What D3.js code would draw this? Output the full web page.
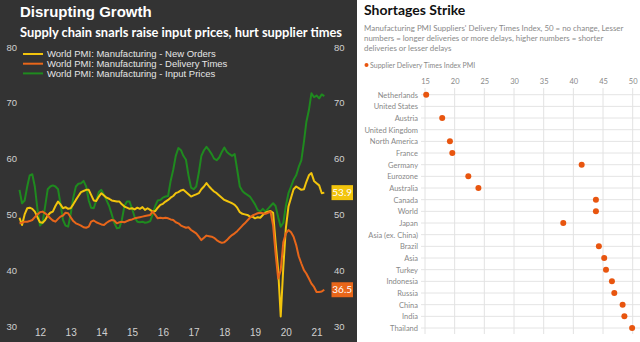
<!DOCTYPE html>
<html><head><meta charset="utf-8">
<script src="https://cdn.jsdelivr.net/npm/d3@7"></script>
<style>html,body{margin:0;padding:0;background:#fff;}svg{display:block;}</style>
</head><body>
<svg id="c" width="640" height="342"></svg>
<script>
// ---------- Left chart data (monthly, Nov 2011 - Oct 2021) ----------
const startMonth = new Date(2011, 10, 1);
const newOrders = [49.4,48.1,50.0,51.1,51.2,51.0,50.5,49.5,48.6,48.5,49.0,49.8,50.3,50.5,51.5,52.3,51.8,51.1,51.3,51.0,51.1,51.8,52.6,53.3,54.0,54.2,54.4,54.4,53.5,52.5,52.4,53.2,53.8,53.4,53.0,52.8,52.5,52.4,52.3,52.3,51.8,51.4,51.2,51.0,51.1,50.9,51.2,51.0,51.3,50.8,51.1,50.8,50.5,50.6,51.2,51.7,51.9,52.3,52.6,53.0,53.3,53.8,54.0,54.3,54.4,54.0,53.6,53.2,53.4,53.6,53.8,54.5,55.0,55.6,55.0,54.5,54.1,53.8,53.4,53.0,52.6,52.4,52.2,52.0,51.7,51.2,50.4,50.1,50.0,49.9,49.6,49.6,49.3,49.5,49.4,49.9,50.3,50.5,50.6,50.3,45.0,40.0,31.7,40.5,47.5,51.4,53.0,54.5,55.0,54.7,54.4,54.5,55.8,57.0,57.4,56.0,55.6,55.2,53.8,53.9];
const deliveryTimes = [48.4,48.5,48.7,48.7,48.8,49.0,49.5,50.0,50.4,50.5,50.2,49.8,49.3,48.9,48.7,49.2,49.6,49.8,50.3,50.2,49.5,48.8,48.4,48.2,48.0,47.7,47.6,47.8,48.7,48.9,48.6,48.4,48.2,48.1,48.5,48.8,49.0,48.9,48.4,48.6,48.7,48.6,48.8,49.0,49.1,49.3,49.4,49.5,49.6,49.7,49.8,49.9,50.5,49.9,49.3,49.4,49.3,49.4,49.3,49.1,49.0,48.6,48.4,48.0,47.8,47.6,47.7,47.2,46.9,46.6,46.0,45.4,45.8,46.2,46.1,46.0,45.8,45.4,45.1,44.9,45.0,45.4,45.9,46.3,46.6,47.0,47.5,48.0,48.4,48.9,49.4,49.8,50.0,50.2,50.3,50.2,50.1,50.3,50.5,48.0,43.0,38.5,40.0,45.0,46.6,47.2,46.8,46.0,44.5,42.5,41.2,40.0,39.4,38.5,37.6,37.0,36.1,36.1,36.2,36.5];
const inputPrices = [54.4,52.0,52.5,55.0,57.0,57.2,55.0,51.0,48.0,48.5,51.5,54.5,55.0,55.2,55.0,54.5,52.0,49.0,48.0,47.8,50.0,53.0,55.0,55.5,55.6,56.0,55.0,52.5,51.2,51.1,52.5,54.0,54.4,53.5,52.5,51.5,50.0,48.5,47.5,47.6,49.0,51.5,52.3,52.3,51.0,49.5,48.7,48.6,48.7,48.5,48.6,48.8,50.0,51.5,52.5,52.6,53.0,53.2,53.3,56.0,58.0,60.5,61.9,61.5,60.5,59.8,57.0,54.8,54.5,55.0,57.5,60.5,61.5,62.1,61.5,60.8,60.0,59.7,60.2,61.2,62.0,61.2,60.8,60.5,60.8,58.0,55.0,54.2,53.8,53.5,53.2,52.5,51.8,50.8,50.5,51.0,50.5,51.0,51.5,52.0,51.5,49.5,47.8,48.5,51.5,53.8,55.0,56.2,57.0,58.5,59.7,63.0,66.5,68.7,71.7,71.0,71.3,70.8,71.5,71.2];
const seriesNames = ["World PMI: Manufacturing - New Orders","World PMI: Manufacturing - Delivery Times","World PMI: Manufacturing - Input Prices"];
const seriesColors = ["#f2c40c","#e8661a","#1f8a1f"];
const yTicks = [30,40,50,60,70,80];
const xTickYears = [2012,2013,2014,2015,2016,2017,2018,2019,2020,2021];
const xTickLabels = ["12","13","14","15","16","17","18","19","20","21"];

// ---------- Right chart data ----------
const countries = ["Netherlands","United States","Austria","United Kingdom","North America","France","Germany","Eurozone","Australia","Canada","World","Japan","Asia (ex. China)","Brazil","Asia","Turkey","Indonesia","Russia","China","India","Thailand"];
const deliveryIndex = [15.2,null,17.9,null,19.2,19.6,41.4,22.3,24.0,43.8,43.8,38.3,null,44.3,45.2,45.5,46.5,46.9,48.3,48.6,49.9];
const dotTicks = [15,20,25,30,35,40,45,50];

const svg = d3.select("#c");

// ================= LEFT PANEL =================
svg.append("rect").attr("x",0).attr("y",0).attr("width",357).attr("height",342).attr("fill","#333333");
svg.append("text").attr("x",20).attr("y",17).attr("fill","#fff")
  .attr("font-family","Liberation Sans, Arial, sans-serif").attr("font-weight","bold").attr("font-size",15)
  .text("Disrupting Growth");
svg.append("text").attr("x",20).attr("y",37).attr("fill","#fff")
  .attr("font-family","Lato, sans-serif").attr("font-weight","bold").attr("font-size",13)
  .attr("textLength",322).attr("lengthAdjust","spacingAndGlyphs")
  .text("Supply chain snarls raise input prices, hurt supplier times");

const x = d3.scaleTime().domain([startMonth, d3.timeMonth.offset(startMonth, newOrders.length-1)]).range([19.5, 324.3]);
const y = d3.scaleLinear().domain([30,80]).range([326,47]);
const dates = newOrders.map((_,i)=>d3.timeMonth.offset(startMonth,i));

const axisFont = "Liberation Sans, Arial, sans-serif";
const gl = svg.append("g").attr("transform","translate(17,0)")
  .call(d3.axisLeft(y).tickValues(yTicks).tickSize(0).tickPadding(0));
const gr = svg.append("g").attr("transform","translate(334,0)")
  .call(d3.axisRight(y).tickValues(yTicks).tickSize(0).tickPadding(0));
const gx = svg.append("g").attr("transform","translate(0,329)")
  .call(d3.axisBottom(x).tickValues(xTickYears.map(yy=>new Date(yy,6,1))).tickSize(0).tickPadding(0)
    .tickFormat((d,i)=>xTickLabels[i]));
[gl,gr,gx].forEach(g=>{
  g.select(".domain").remove();
  g.selectAll("text").attr("fill","#d0d0d0").attr("font-family",axisFont).attr("font-size",9.5);
});
gx.selectAll("text").attr("dy","0.71em").attr("font-size",10);

const line = d3.line().x((d,i)=>x(dates[i])).y(d=>y(d));
const allSeries = [newOrders, deliveryTimes, inputPrices];
[2,0,1].forEach(k=>{
  svg.append("path").datum(allSeries[k]).attr("d",line)
    .attr("fill","none").attr("stroke",seriesColors[k]).attr("stroke-width",2).attr("stroke-linejoin","round");
});

// legend
seriesNames.forEach((n,i)=>{
  const ly = 54 + i*9.7;
  svg.append("line").attr("x1",23).attr("x2",43).attr("y1",ly).attr("y2",ly)
    .attr("stroke",seriesColors[i]).attr("stroke-width",2);
  svg.append("text").attr("x",47).attr("y",ly+3.4).attr("fill","#e6e6e6")
    .attr("font-family",axisFont).attr("font-size",9.5).text(n);
});

// end-value badges
[[newOrders,0],[deliveryTimes,1]].forEach(([s,k])=>{
  const v = s[s.length-1];
  svg.append("rect").attr("x",331.5).attr("y",y(v)-7.5).attr("width",21.5).attr("height",15).attr("fill",seriesColors[k]);
  svg.append("text").attr("x",342.2).attr("y",y(v)+3.6).attr("text-anchor","middle").attr("fill","#fff")
    .attr("font-family","Lato, sans-serif").attr("font-size",10).text(v.toFixed(1));
});

// ================= RIGHT PANEL =================
const rf = "Lato, 'Open Sans', sans-serif";
svg.append("text").attr("x",364).attr("y",15).attr("fill","#111")
  .attr("font-family",rf).attr("font-weight","bold").attr("font-size",14).text("Shortages Strike");
const sub = ["Manufacturing PMI Suppliers' Delivery Times Index, 50 = no change, Lesser",
             "numbers = longer deliveries or more delays, higher numbers = shorter",
             "deliveries or lesser delays"];
sub.forEach((t,i)=>svg.append("text").attr("x",364).attr("y",31+i*9.8).attr("fill","#8a8a8a")
  .attr("font-family",rf).attr("font-size",7.9).text(t));
svg.append("circle").attr("cx",366.5).attr("cy",65).attr("r",2).attr("fill","#e8550f");
svg.append("text").attr("x",370).attr("y",67.5).attr("fill","#888").attr("font-family",rf).attr("font-size",7)
  .text("Supplier Delivery Times Index PMI");

const xr = d3.scaleLinear().domain([15,50]).range([425,632.7]);
const yr = d3.scalePoint().domain(countries).range([94.7,328]);

svg.append("g").selectAll("line").data(countries).join("line")
  .attr("x1",421).attr("x2",640).attr("y1",d=>yr(d)).attr("y2",d=>yr(d))
  .attr("stroke","#e4e4e4").attr("stroke-width",1);
svg.append("g").selectAll("line").data(dotTicks).join("line")
  .attr("x1",d=>xr(d)).attr("x2",d=>xr(d)).attr("y1",88).attr("y2",334)
  .attr("stroke","#e2e2e2").attr("stroke-width",1);

const gxr = svg.append("g").attr("transform","translate(0,84)")
  .call(d3.axisTop(xr).tickValues(dotTicks).tickSize(0).tickPadding(0));
gxr.select(".domain").remove();
gxr.selectAll("text").attr("fill","#888").attr("font-family",rf).attr("font-size",7.5);

const gyr = svg.append("g").attr("transform","translate(418,0)")
  .call(d3.axisLeft(yr).tickSize(0).tickPadding(0));
gyr.select(".domain").remove();
gyr.selectAll("text").attr("fill","#888").attr("font-family",rf).attr("font-size",7.5);

svg.append("g").selectAll("circle").data(countries.map((c,i)=>({c,v:deliveryIndex[i]})).filter(d=>d.v!=null))
  .join("circle").attr("cx",d=>xr(d.v)).attr("cy",d=>yr(d.c)).attr("r",3).attr("fill","#e8550f");
</script>
</body></html>
